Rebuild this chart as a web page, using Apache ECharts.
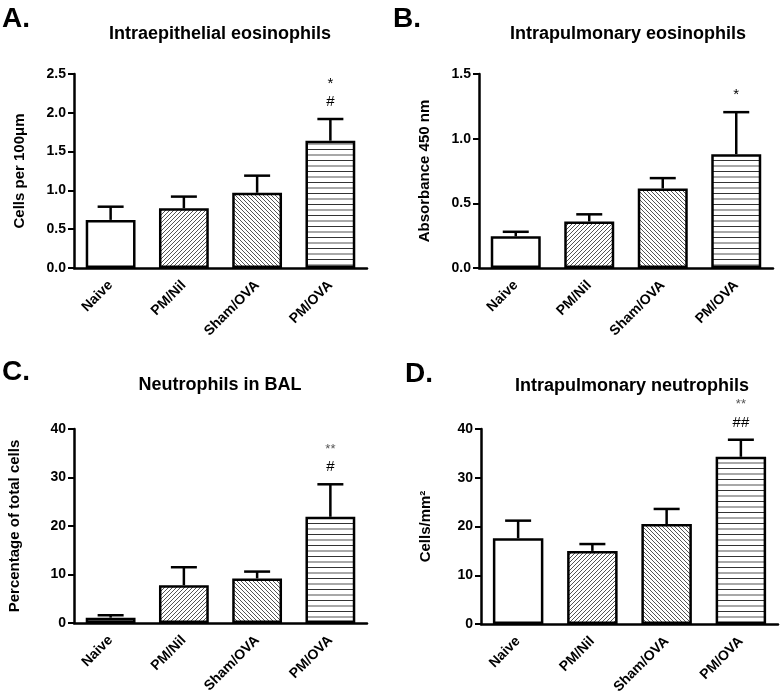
<!DOCTYPE html>
<html><head><meta charset="utf-8">
<script src="https://cdn.jsdelivr.net/npm/echarts@6.0.0/dist/echarts.min.js"></script>
<style>html,body{margin:0;padding:0;background:#fff}#c{width:781px;height:699px}</style>
</head><body><div id="c"></div>
<script>
// ---- data ----
const categories = ['Naive', 'PM/Nil', 'Sham/OVA', 'PM/OVA'];
const meanA = [0.62, 0.77, 0.97, 1.64];
const semA  = [0.17, 0.15, 0.22, 0.28];
const meanB = [0.245, 0.36, 0.615, 0.88];
const semB  = [0.035, 0.055, 0.08, 0.325];
const meanC = [1.1, 7.8, 9.2, 21.9];
const semC  = [0.5, 3.7, 1.4, 6.7];
const meanD = [17.6, 15.0, 20.5, 34.3];
const semD  = [3.6, 1.4, 3.1, 3.5];
const sigA = [[], [], [], ['*', '#']];
const sigB = [[], [], [], ['*']];
const sigC = [[], [], [], ['**', '#']];
const sigD = [[], [], [], ['**', '##']];
const titles = ['Intraepithelial eosinophils', 'Intrapulmonary eosinophils', 'Neutrophils in BAL', 'Intrapulmonary neutrophils'];
const letters = ['A.', 'B.', 'C.', 'D.'];
const yNames = ['Cells per 100\u03bcm', 'Absorbance 450 nm', 'Percentage of total cells', 'Cells/mm\u00b2'];
const yMax = [2.5, 1.5, 40, 40];
const yStep = [0.5, 0.5, 10, 10];
const yDecimals = [1, 1, 0, 0];

// ---- styling ----
const FF = '"Liberation Sans", Arial, sans-serif';
function mkCanvas(w, h, draw) {
  const c = document.createElement('canvas'); c.width = w; c.height = h;
  const g = c.getContext('2d'); g.fillStyle = '#fff'; g.fillRect(0, 0, w, h); draw(g); return c;
}
const fwd = mkCanvas(4, 4, g => { g.strokeStyle = '#555'; g.lineWidth = 1; g.beginPath();
  g.moveTo(-1, 5); g.lineTo(5, -1); g.moveTo(-1, 1); g.lineTo(1, -1); g.moveTo(3, 5); g.lineTo(5, 3); g.stroke(); });
const bwd = mkCanvas(4, 4, g => { g.strokeStyle = '#555'; g.lineWidth = 1; g.beginPath();
  g.moveTo(-1, -1); g.lineTo(5, 5); g.moveTo(-1, 3); g.lineTo(1, 5); g.moveTo(3, -1); g.lineTo(5, 1); g.stroke(); });
const hor = mkCanvas(2, 11, g => { g.fillStyle = '#a8a8a8'; g.fillRect(0, 0, 2, 2); g.fillStyle = '#333'; g.fillRect(0, 6, 2, 1); });
const fills = ['#fff', { image: fwd, repeat: 'repeat' }, { image: bwd, repeat: 'repeat' }, { image: hor, repeat: 'repeat' }];

const grids = [
  { left: 74, top: 74, width: 293, height: 194 },
  { left: 479, top: 74, width: 294, height: 194 },
  { left: 74, top: 429, width: 293, height: 194 },
  { left: 481, top: 429, width: 297, height: 195 }
];
const nameGaps = [47, 47, 52, 48];
const titlePos = [[220, 34], [628, 34], [220, 385], [632, 386]];
const letterPos = [[2, 19], [393, 19], [2, 372], [405, 374]];

const means = [meanA, meanB, meanC, meanD];
const sems = [semA, semB, semC, semD];
const sigs = [sigA, sigB, sigC, sigD];
const starStyle = [
  { fontSize: 15, fill: '#000' }, { fontSize: 15, fill: '#000' },
  { fontSize: 13, fill: '#555' }, { fontSize: 13, fill: '#555' }
];

function errRender(sig, star) {
  return function (params, api) {
    const i = api.value(0);
    const p0 = api.coord([i, api.value(1)]);
    const p1 = api.coord([i, api.value(2)]);
    const hw = 13;
    const children = [
      { type: 'line', shape: { x1: p0[0], y1: p0[1], x2: p1[0], y2: p1[1] }, style: { stroke: '#000', lineWidth: 2.5 } },
      { type: 'line', shape: { x1: p1[0] - hw, y1: p1[1], x2: p1[0] + hw, y2: p1[1] }, style: { stroke: '#000', lineWidth: 2.5 } }
    ];
    const s = sig[params.dataIndex];
    if (s.length) {
      const parts = s.map(t => (t.indexOf('*') >= 0 ? '{s|' : '{h|') + t + '}');
      children.push({
        type: 'text',
        style: {
          text: parts.join('\n'), x: p1[0], y: p1[1] - 8, align: 'center', verticalAlign: 'bottom',
          rich: {
            s: { fontSize: star.fontSize, fontFamily: FF, fill: star.fill, lineHeight: 18 },
            h: { fontSize: 15, fontFamily: FF, fill: '#000', lineHeight: 18 }
          }
        }
      });
    }
    return { type: 'group', children };
  };
}

const xAxis = [], yAxis = [], series = [], graphic = [];
for (let k = 0; k < 4; k++) {
  xAxis.push({
    type: 'category', gridIndex: k, data: categories,
    axisLine: { lineStyle: { color: '#000', width: 2.5 } },
    axisTick: { alignWithLabel: true, length: 6, lineStyle: { color: '#000', width: 2 } },
    axisLabel: { rotate: 45, margin: 15, color: '#000', fontSize: 14, fontWeight: 'bold', fontFamily: FF, interval: 0 }
  });
  yAxis.push({
    type: 'value', gridIndex: k, min: 0, max: yMax[k], interval: yStep[k],
    name: yNames[k], nameLocation: 'middle', nameGap: nameGaps[k],
    nameTextStyle: { color: '#000', fontSize: 15, fontWeight: 'bold', fontFamily: FF },
    axisLine: { show: true, lineStyle: { color: '#000', width: 2.5 } },
    axisTick: { show: true, length: 6, lineStyle: { color: '#000', width: 2 } },
    splitLine: { show: false },
    axisLabel: { color: '#000', fontSize: 14, fontWeight: 'bold', fontFamily: FF, margin: 8,
      formatter: v => v.toFixed(yDecimals[k]) }
  });
  series.push({
    type: 'bar', xAxisIndex: k, yAxisIndex: k, barWidth: '68%', z: 2,
    data: means[k].map((v, i) => ({ value: v, itemStyle: { color: fills[i] } })),
    itemStyle: { borderColor: '#000', borderWidth: 2.5 },
    emphasis: { disabled: true }, silent: true
  });
  series.push({
    type: 'custom', xAxisIndex: k, yAxisIndex: k, z: 3, silent: true,
    renderItem: errRender(sigs[k], starStyle[k]),
    data: means[k].map((v, i) => [i, v, v + sems[k][i]])
  });
  graphic.push({
    type: 'text', x: titlePos[k][0], y: titlePos[k][1],
    style: { text: titles[k], align: 'center', verticalAlign: 'middle', font: 'bold 18px ' + FF, fill: '#000' }
  });
  graphic.push({
    type: 'text', x: letterPos[k][0], y: letterPos[k][1],
    style: { text: letters[k], align: 'left', verticalAlign: 'middle', font: 'bold 28px ' + FF, fill: '#000' }
  });
}

const chart = echarts.init(document.getElementById('c'), null, { renderer: 'canvas' });
chart.setOption({
  backgroundColor: '#fff', animation: false,
  grid: grids, xAxis, yAxis, series, graphic
});
</script>
</body></html>
